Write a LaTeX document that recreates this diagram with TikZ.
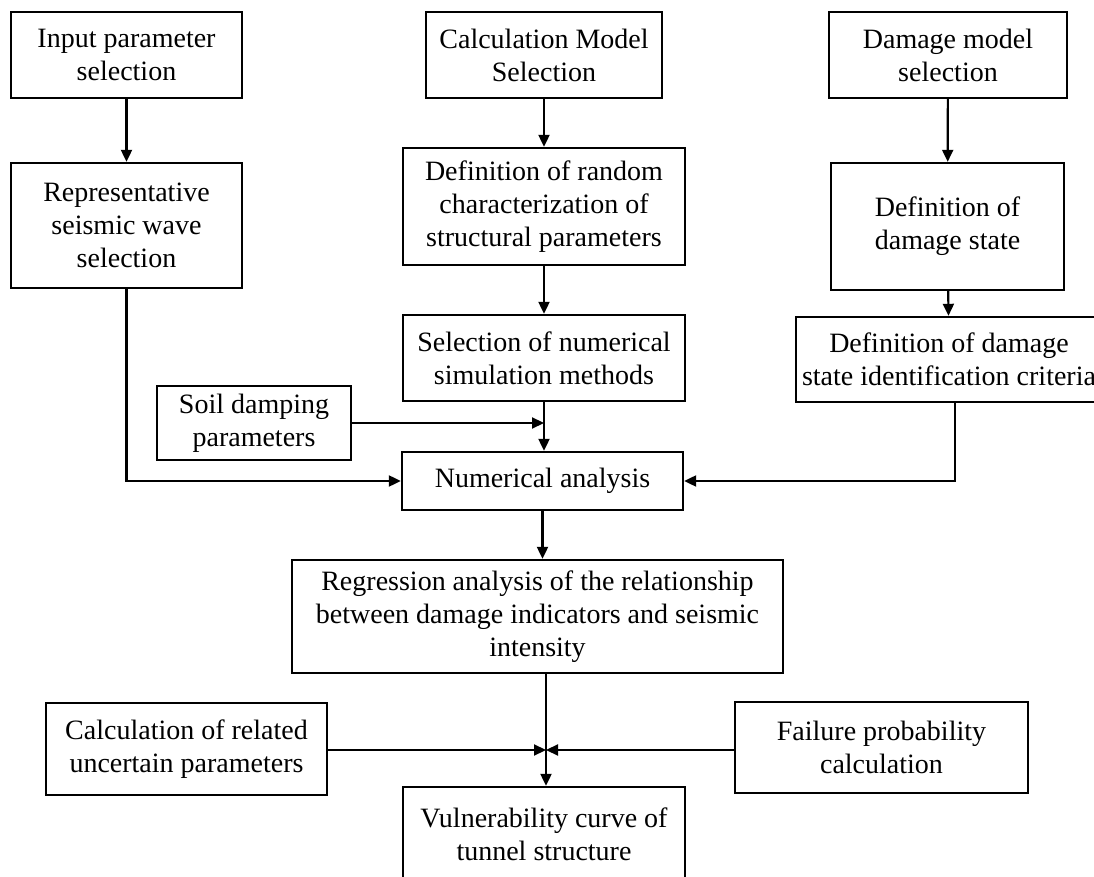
\documentclass[tikz,border=0pt]{standalone}
\usepackage{fontspec}
\setmainfont{Liberation Serif}
\usetikzlibrary{arrows.meta,positioning,calc}

\tikzset{
  box/.style={draw, line width=1.2pt, align=center, inner sep=2pt,
              font=\fontsize{14}{16.5}\selectfont},
  boxsize/.style 2 args={minimum width=#1*0.5pt, minimum height=#2*0.5pt},
}

\begin{document}
\begin{tikzpicture}[x=0.5pt, y=-0.5pt, >={Triangle[length=6pt,width=5.5pt]}, line width=1.1pt]
  \path[use as bounding box, clip] (0,0) rectangle (1094,877);

  % left column
  \node[box, boxsize={231}{86}]  (inp)   at (126.5,55)   {Input parameter\\selection};
  \node[box, boxsize={231}{125}] (rep)   at (126.5,225.5) {Representative\\seismic wave\\selection};
  \node[box, boxsize={194}{74}]  (soil)  at (254,423)    {Soil damping\\parameters};

  % middle column
  \node[box, boxsize={236}{86}]  (calc)  at (544,55)     {Calculation Model\\Selection};
  \node[box, boxsize={282}{117}] (rand)  at (544,206.5)  {Definition of random\\characterization of\\structural parameters};
  \node[box, boxsize={282}{86}]  (sel)   at (544,358)    {Selection of numerical\\simulation methods};
  \node[box, boxsize={281}{58}]  (num)   at (542.5,481)  {Numerical analysis};
  \node[box, boxsize={491}{113}] (reg)   at (537.5,616.5) {Regression analysis of the relationship\\between damage indicators and seismic\\intensity};
  \node[box, boxsize={282}{94}]  (vul)   at (544,834)    {Vulnerability curve of\\tunnel structure};

  % right column
  \node[box, boxsize={238}{86}]  (dmg)   at (948,55)     {Damage model\\selection};
  \node[box, boxsize={233}{127}] (state) at (947.5,226.5) {Definition of\\damage state};
  \node[box, boxsize={306}{85}]  (crit)  at (949,359.5)  {Definition of damage\\state identification criteria};

  % bottom row
  \node[box, boxsize={281}{92}]  (unc)   at (186.5,749)  {Calculation of related\\uncertain parameters};
  \node[box, boxsize={293}{91}]  (fail)  at (881.5,747.5) {Failure probability\\calculation};

  \coordinate (jn) at (546,750);

  \draw[->] (inp) -- (rep);
  \draw[->] (rep.south) |- (num.west);
  \draw[->] (calc) -- (rand);
  \draw[->] (rand) -- (sel);
  \draw[->] (sel.south) -- (sel.south |- num.north);
  \draw[->] (soil.east) -- (soil.east -| sel.south);
  \draw[->] (dmg) -- (state);
  \draw[->] (state) -- (crit);
  \draw[->] ([xshift=3pt]crit.south) |- (num.east);
  \draw[->] (num.south) -- (num.south |- reg.north);
  \draw[->] (reg.south -| jn) -- (vul.north -| jn);
  \draw[->] (unc.east |- jn) -- (jn);
  \draw[->] (fail.west |- jn) -- (jn);
\end{tikzpicture}
\end{document}
